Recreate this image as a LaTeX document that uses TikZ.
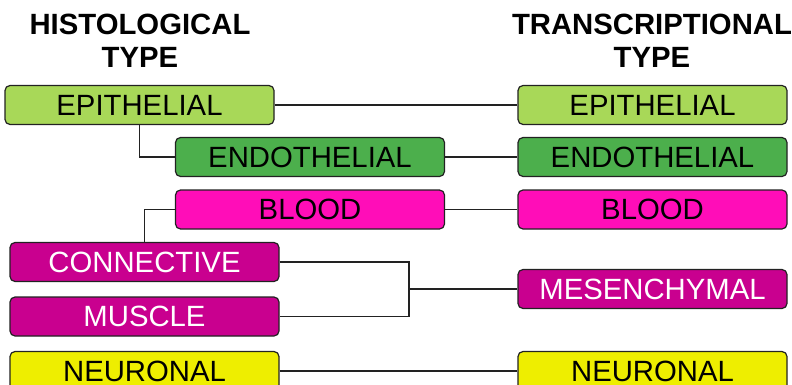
\documentclass[tikz,border=0pt]{standalone}
\usepackage{fontspec}
\setmainfont{Liberation Sans}
\definecolor{cepi}{HTML}{A8D858}
\definecolor{cendo}{HTML}{4CAF4C}
\definecolor{cblood}{HTML}{FF0DB8}
\definecolor{cmes}{HTML}{C9008F}
\definecolor{cneu}{HTML}{EEEE00}
\definecolor{cline}{HTML}{222222}
\begin{document}
\begin{tikzpicture}[x=1pt,y=-1pt,
  box/.style={draw=cline, line width=1.2pt, rounded corners=5pt, minimum width=269pt, minimum height=39pt, inner sep=0pt, font=\fontsize{29.3}{30}\selectfont, anchor=center},
  head/.style={align=center, font=\fontsize{29.3}{33}\selectfont\bfseries, anchor=center},
  conn/.style={draw=cline, line width=1.1pt}]
\useasboundingbox (0,0) rectangle (792,385);
\node[head] (h1) at (140,41) {HISTOLOGICAL\\TYPE};
\node[head] (h2) at (652,41) {TRANSCRIPTIONAL\\TYPE};
% left
\node[box, fill=cepi] (lepi) at (139.5,105) {EPITHELIAL};
\node[box, fill=cendo] (lendo) at (310,157) {ENDOTHELIAL};
\node[box, fill=cblood] (lblood) at (310,209.5) {BLOOD};
\node[box, fill=cmes, text=white] (lconn) at (144.5,262) {CONNECTIVE};
\node[box, fill=cmes, text=white] (lmus) at (144.5,316.5) {MUSCLE};
\node[box, fill=cneu] (lneu) at (144.5,371) {NEURONAL};
% right
\node[box, fill=cepi] (repi) at (652.5,105) {EPITHELIAL};
\node[box, fill=cendo] (rendo) at (652.5,157) {ENDOTHELIAL};
\node[box, fill=cblood] (rblood) at (652.5,209.5) {BLOOD};
\node[box, fill=cmes, text=white] (rmes) at (652.5,289) {MESENCHYMAL};
\node[box, fill=cneu] (rneu) at (652.5,371) {NEURONAL};
\coordinate (j) at (409,289);
% connectors
\draw[conn] (lepi.east) -- (repi.west);
\draw[conn] (lepi.south) |- (lendo.west);
\draw[conn] (lendo.east) -- (rendo.west);
\draw[conn] (lconn.north) |- (lblood.west);
\draw[conn] (lblood.east) -- (rblood.west);
\draw[conn] (lconn.east) -| (j) |- (lmus.east);
\draw[conn] (j) -- (rmes.west);
\draw[conn] (lneu.east) -- (rneu.west);
\end{tikzpicture}
\end{document}
